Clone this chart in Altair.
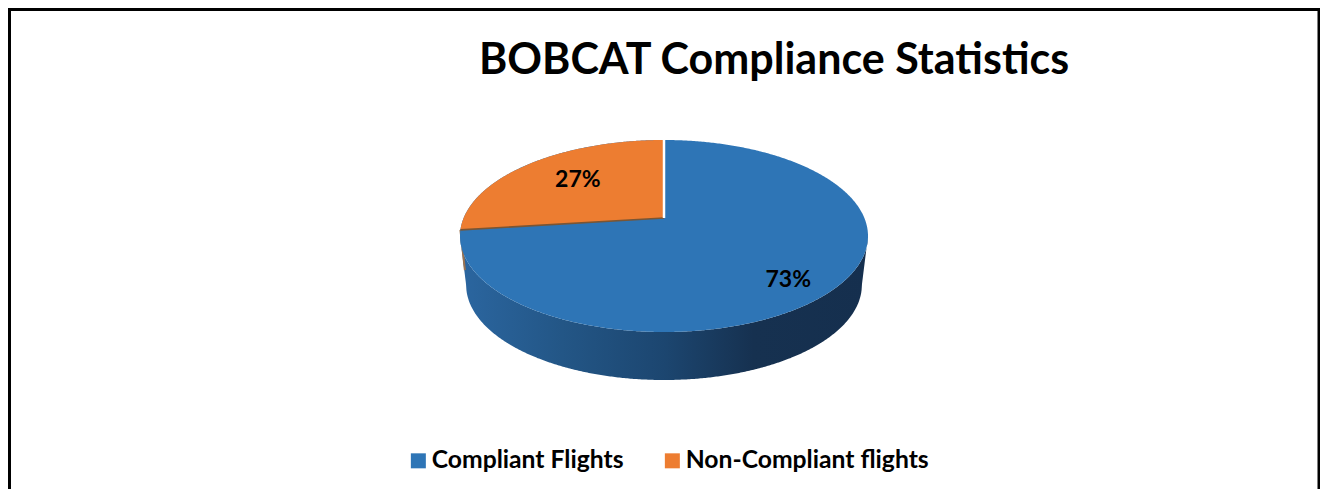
import altair as alt
import pandas as pd

title = "BOBCAT Compliance Statistics"
categories = ["Compliant Flights", "Non-Compliant flights"]
shares = [73, 27]
colors = ["#2E75B6", "#ED7D31"]

W, H = 1312, 481
CX, CY, A, B = 656, 228, 204, 96      # top ellipse in svg pixels
C = 0.1875                            # perspective shift of the pie centre
K = (1 - C * C) ** 0.5

x_scale = alt.Scale(domain=[-CX / A, (W - CX) / A], range=[0, W], nice=False, zero=False)
y_scale = alt.Scale(domain=[(CY - H) / B, CY / B], range=[H, 0], nice=False, zero=False)
X = lambda f: alt.X(f"{f}:Q", scale=x_scale, axis=None)
Y = lambda f: alt.Y(f"{f}:Q", scale=y_scale, axis=None)

orange_turn = f"(2*PI*{shares[1]}/100)"
def px(theta, r="1"):
    return f"(-sin({theta})*{r})*{K}/(1+{C}*cos({theta})*{r})"
def py(theta, r="1"):
    return f"(cos({theta})*{r}+{C})/(1+{C}*cos({theta})*{r})"
XE, YE = px(orange_turn), py(orange_turn)

color_scale = alt.Scale(domain=categories, range=colors)
legend = alt.Legend(
    title=None, orient="none", legendX=398, legendY=440, direction="horizontal",
    symbolType="square", symbolSize=225, symbolStrokeWidth=0, symbolOpacity=1,
    labelFont="Lato", labelFontWeight="bold", labelFontSize=24.7, labelColor="#000000",
    labelLimit=400, columnPadding=36, labelOffset=1, padding=0,
)
color_enc = alt.Color("segment:N", scale=color_scale, legend=legend)

def seq(stop, step):
    return alt.sequence(0, stop, step, as_="s")

wall_fill = alt.Gradient(
    gradient="linear", x1=0, x2=1, y1=0, y2=0,
    stops=[
        alt.GradientStop(offset=0.0, color="#2B66A0"),
        alt.GradientStop(offset=0.25, color="#235686"),
        alt.GradientStop(offset=0.5, color="#1C4670"),
        alt.GradientStop(offset=0.72, color="#163150"),
        alt.GradientStop(offset=1.0, color="#152F4E"),
    ],
)
wall = (
    alt.Chart(seq(1.0005, 0.0025)).mark_area(fill=wall_fill)
    .transform_calculate(x="cos(PI*datum.s)")
    .transform_calculate(y1="-sqrt(max(0,1-datum.x*datum.x))")
    .transform_calculate(y2="abs(datum.x)<0.97 ? -0.51-0.99*sqrt(1-pow(datum.x/0.97,2)) : -0.51*(1-abs(datum.x))/0.03")
    .encode(x=X("x"), y=Y("y1"), y2="y2:Q")
)
sliver = (
    alt.Chart(seq(1.5, 1)).mark_line(color="#9A7250", strokeWidth=2)
    .transform_calculate(x=f"{XE}+0.022*datum.s", y=f"{YE}-0.42*datum.s")
    .encode(x=X("x"), y=Y("y"))
)
blue = (
    alt.Chart(seq(1.0005, 0.0025)).mark_area(opacity=1)
    .transform_calculate(x="cos(PI*datum.s)", segment=f"'{categories[0]}'")
    .transform_calculate(y1="sqrt(max(0,1-datum.x*datum.x))")
    .transform_calculate(y2="-datum.y1")
    .encode(x=X("x"), y=Y("y1"), y2="y2:Q", color=color_enc)
)
orange = (
    alt.Chart(seq(1.0005, 0.005)).mark_area(opacity=1)
    .transform_calculate(th=f"datum.s*{orange_turn}", segment=f"'{categories[1]}'")
    .transform_calculate(x=px("datum.th"), y1=py("datum.th"))
    .transform_calculate(y2=f"{C}+({YE}-{C})*datum.x/({XE})")
    .encode(x=X("x"), y=Y("y1"), y2="y2:Q", color=color_enc)
)
shadow = (
    alt.Chart(seq(1.5, 1)).mark_line(color="#7A5534", strokeWidth=1.6)
    .transform_calculate(x=f"{XE}*datum.s", y=f"{C}+({YE}-{C})*datum.s")
    .encode(x=X("x"), y=Y("y"))
)
white = (
    alt.Chart(seq(1.5, 1)).mark_line(color="#FFFFFF", strokeWidth=2.5)
    .transform_calculate(x="0*datum.s", y=f"{C}+(1-{C})*datum.s")
    .encode(x=X("x"), y=Y("y"))
)

table = pd.DataFrame({"segment": categories, "share": shares})
def label(i, theta, dx, dy):
    return (
        alt.Chart(table.iloc[[i]])
        .mark_text(font="Lato", fontWeight="bold", fontSize=23, color="#000000",
                   baseline="middle", align="center", dx=dx, dy=dy)
        .transform_calculate(x=px(theta, "0.75"), y=py(theta, "0.75"),
                             text="datum.share+'%'")
        .encode(x=X("x"), y=Y("y"), text="text:N")
    )
label_blue = label(0, f"(PI*{shares[0]}/100*-1)", 0, 11)
label_orange = label(1, f"(PI*{shares[1]}/100)", 17, 4)

frame_src = pd.DataFrame({"k": [0]})
frame_left = alt.Chart(frame_src).mark_rule(color="#000000", strokeWidth=3).encode(
    x=alt.value(1.5), y=alt.value(0), y2=alt.value(H))
frame_right = alt.Chart(frame_src).mark_rule(color="#000000", strokeWidth=2.5).encode(
    x=alt.value(W - 1.25), y=alt.value(0), y2=alt.value(H))
frame_top = alt.Chart(frame_src).mark_rule(color="#000000", strokeWidth=3).encode(
    x=alt.value(0), x2=alt.value(W), y=alt.value(1.5))

chart = (
    alt.layer(wall, sliver, blue, orange, shadow, white, label_blue, label_orange,
              frame_left, frame_right, frame_top)
    .properties(
        width=W, height=H, padding=0,
        autosize=alt.AutoSizeParams(type="none"),
        title=alt.TitleParams(
            title, font="Lato", fontWeight="bold", fontSize=43, color="#000000",
            anchor="start", frame="group", dx=471, dy=110, offset=0, baseline="alphabetic",
        ),
    )
    .configure_view(stroke=None)
    .resolve_scale(x="shared", y="shared", color="shared")
)
chart.save("out.html", embed_options={"renderer": "svg", "actions": False})
